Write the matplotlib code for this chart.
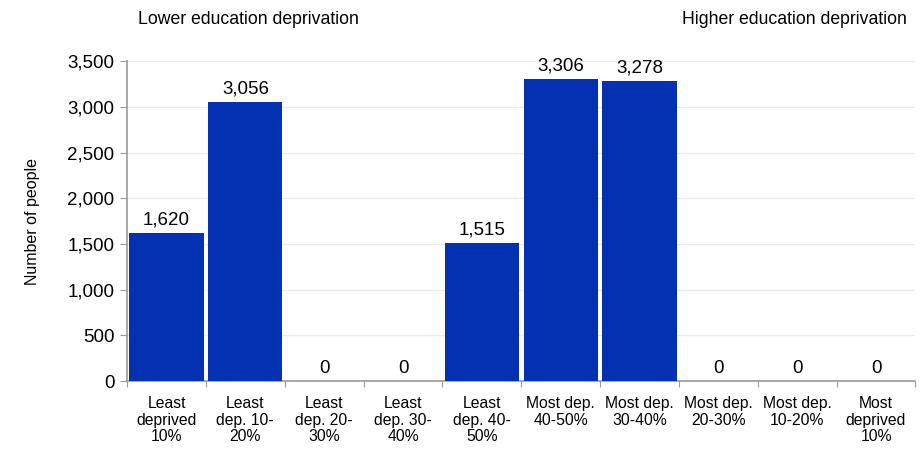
import matplotlib.pyplot as plt
import numpy as np

plt.rcParams['font.family'] = ['Liberation Sans', 'DejaVu Sans']

categories = ["Least\ndeprived\n10%", "Least\ndep. 10-\n20%", "Least\ndep. 20-\n30%",
              "Least\ndep. 30-\n40%", "Least\ndep. 40-\n50%", "Most dep.\n40-50%",
              "Most dep.\n30-40%", "Most dep.\n20-30%", "Most dep.\n10-20%",
              "Most\ndeprived\n10%"]
people = [1620, 3056, 0, 0, 1515, 3306, 3278, 0, 0, 0]
yticks = [0, 500, 1000, 1500, 2000, 2500, 3000, 3500]

fig = plt.figure(figsize=(9.21, 4.49), dpi=100)
ax = fig.add_axes([0.138, 0.151, 0.856, 0.713])

x = np.arange(len(categories))
ax.bar(x, people, width=0.94, color='#0331B1', zorder=3)
for xi, v in zip(x, people):
    ax.text(xi, v + 50, f"{v:,}", ha='center', va='bottom', fontsize=13.5)

ax.set_xlim(-0.5, len(categories) - 0.5)
ax.set_ylim(0, 3500)
ax.set_yticks(yticks)
ax.set_yticklabels([f"{t:,}" for t in yticks], fontsize=13.5)
ax.grid(axis='y', color='#ebebeb', linewidth=1, zorder=0)

# slot boundaries carry the ticks, labels sit in the middle of each slot
ax.set_xticks(np.arange(-0.5, len(categories)), minor=False)
ax.set_xticklabels([])
ax.set_xticks(x, minor=True)
ax.set_xticklabels(categories, minor=True, fontsize=11.3, linespacing=1.12)
ax.tick_params(axis='x', which='minor', length=0, pad=11)
ax.tick_params(axis='x', which='major', length=4, color='#999999')
ax.tick_params(axis='y', length=5, color='#999999', pad=4)

for s in ['top', 'right']:
    ax.spines[s].set_visible(False)
for s in ['left', 'bottom']:
    ax.spines[s].set_color('#999999')
    ax.spines[s].set_linewidth(1.2)

ax.set_ylabel("Number of people", fontsize=11.5)
ax.yaxis.set_label_coords(-0.11, 0.5)

fig.text(138 / 921, 1 - 19 / 449, "Lower education deprivation", ha='left', va='center', fontsize=12.7)
fig.text(907 / 921, 1 - 19 / 449, "Higher education deprivation", ha='right', va='center', fontsize=12.7)

fig.savefig("out.png", dpi=100)
